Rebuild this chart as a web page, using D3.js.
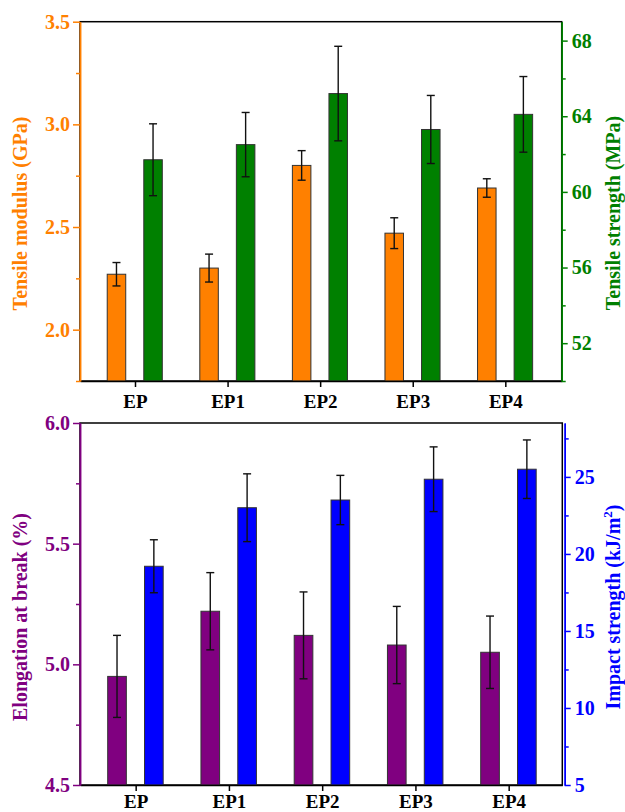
<!DOCTYPE html>
<html>
<head>
<meta charset="utf-8">
<script src="https://cdn.jsdelivr.net/npm/d3@7"></script>
<style>
  html, body { margin: 0; padding: 0; background: #fff; }
  svg { display: block; }
  text { font-family: "Liberation Serif", "Times New Roman", serif; font-weight: bold; }
</style>
</head>
<body>
<svg id="chart" width="625" height="812"></svg>
<script>
// Samples
const categories = ["EP", "EP1", "EP2", "EP3", "EP4"];

// Upper panel: tensile modulus (GPa) and tensile strength (MPa)
const tensileModulus    = [2.27, 2.30, 2.80, 2.47, 2.69];
const tensileModulusErr = [0.057, 0.068, 0.072, 0.075, 0.045];
const tensileStrength    = [61.7, 62.5, 65.2, 63.3, 64.1];
const tensileStrengthErr = [1.9, 1.7, 2.5, 1.8, 2.0];

// Lower panel: elongation at break (%) and impact strength (kJ/m²)
const elongation    = [4.95, 5.22, 5.12, 5.08, 5.05];
const elongationErr = [0.17, 0.16, 0.18, 0.16, 0.15];
const impactStrength    = [19.2, 23.0, 23.5, 24.85, 25.5];
const impactStrengthErr = [1.72, 2.2, 1.6, 2.1, 1.9];

// Axis ticks
const modulusTicks       = [2.0, 2.5, 3.0, 3.5];
const modulusMinorTicks  = [1.75, 2.25, 2.75, 3.25];
const strengthTicks      = [52, 56, 60, 64, 68];
const strengthMinorTicks = [50, 54, 58, 62, 66];
const elongTicks         = [4.5, 5.0, 5.5, 6.0];
const elongMinorTicks    = [4.75, 5.25, 5.75];
const impactTicks        = [5, 10, 15, 20, 25];
const impactMinorTicks   = [7.5, 12.5, 17.5, 22.5, 27.5];

const TICK_FONT = 20;
const CAT_FONT = 19;
const svg = d3.select("#chart");

function drawPanel(cfg) {
  const g = svg.append("g");
  const { left, right, top, bottom } = cfg;

  const x = d3.scaleLinear()
    .domain([-cfg.padL, categories.length - 1 + cfg.padR])
    .range([left, right]);
  const step = x(1) - x(0);
  const barW = 0.2 * step;

  const yL = d3.scaleLinear().domain(cfg.leftDomain).range([bottom, top]);
  const yR = d3.scaleLinear().domain(cfg.rightDomain).range([bottom, top]);

  // frame
  g.append("rect")
    .attr("x", left).attr("y", top)
    .attr("width", right - left).attr("height", bottom - top)
    .attr("fill", "none").attr("stroke", "#000").attr("stroke-width", 1.5);

  // bars with error bars
  function bars(values, errs, scale, offset, color) {
    const bg = g.append("g");
    bg.selectAll("rect").data(values).join("rect")
      .attr("x", (d, i) => x(i) + offset * step - barW / 2)
      .attr("y", d => scale(d))
      .attr("width", barW)
      .attr("height", d => bottom - scale(d))
      .attr("fill", color)
      .attr("stroke", "#333").attr("stroke-width", 1);
    const eg = g.append("g").attr("stroke", "#111").attr("stroke-width", 1.4);
    values.forEach((v, i) => {
      const cx = x(i) + offset * step;
      const y1 = scale(v + errs[i]), y2 = scale(v - errs[i]);
      eg.append("line").attr("x1", cx).attr("x2", cx).attr("y1", y1).attr("y2", y2);
      eg.append("line").attr("x1", cx - 4).attr("x2", cx + 4).attr("y1", y1).attr("y2", y1);
      eg.append("line").attr("x1", cx - 4).attr("x2", cx + 4).attr("y1", y2).attr("y2", y2);
    });
  }
  bars(cfg.leftValues, cfg.leftErr, yL, -0.2, cfg.leftColor);
  bars(cfg.rightValues, cfg.rightErr, yR, 0.195, cfg.rightColor);

  // bottom axis with category names
  const xa = g.append("g").attr("transform", `translate(0,${bottom})`)
    .call(d3.axisBottom(x).tickValues(d3.range(categories.length))
      .tickFormat(i => categories[i]).tickSize(6).tickSizeOuter(0));
  xa.select(".domain").attr("stroke", "#000").attr("stroke-width", 1.5);
  xa.selectAll(".tick line").attr("stroke", "#000").attr("stroke-width", 1.5);
  xa.selectAll(".tick text").attr("y", cfg.catBaseline).attr("dy", 0)
    .attr("fill", "#000").style("font-size", CAT_FONT + "px");

  function styleAxis(sel, color) {
    sel.select(".domain").attr("stroke", color).attr("stroke-width", 1.5);
    sel.selectAll(".tick line").attr("stroke", color).attr("stroke-width", 1.5);
    sel.selectAll(".tick text").attr("fill", color).style("font-size", TICK_FONT + "px");
  }

  // left axis
  const la = g.append("g").attr("transform", `translate(${left},0)`)
    .call(d3.axisLeft(yL).tickValues(cfg.leftTicks).tickFormat(d3.format(".1f"))
      .tickSize(7).tickPadding(3).tickSizeOuter(0));
  styleAxis(la, cfg.leftColor);
  const lm = g.append("g").attr("transform", `translate(${left},0)`)
    .call(d3.axisLeft(yL).tickValues(cfg.leftMinor).tickFormat("").tickSize(4).tickSizeOuter(0));
  styleAxis(lm, cfg.leftColor);

  // right axis
  const ra = g.append("g").attr("transform", `translate(${cfg.rightAxisX},0)`)
    .call(d3.axisRight(yR).tickValues(cfg.rightTicks).tickFormat(d3.format("d"))
      .tickSize(6).tickPadding(4).tickSizeOuter(0));
  styleAxis(ra, cfg.rightColor);
  const rm = g.append("g").attr("transform", `translate(${cfg.rightAxisX},0)`)
    .call(d3.axisRight(yR).tickValues(cfg.rightMinor).tickFormat("").tickSize(4).tickSizeOuter(0));
  styleAxis(rm, cfg.rightColor);

  // axis titles
  g.append("text")
    .attr("transform", `translate(${cfg.leftTitleX},${cfg.leftTitleY}) rotate(-90)`)
    .attr("text-anchor", "middle").attr("fill", cfg.leftColor)
    .style("font-size", "20px").text(cfg.leftTitle);
  const rt = g.append("text")
    .attr("transform", `translate(${cfg.rightTitleX},${cfg.rightTitleY}) rotate(-90)`)
    .attr("text-anchor", "middle").attr("fill", cfg.rightColor)
    .style("font-size", "20px");
  rt.append("tspan").text(cfg.rightTitle);
  if (cfg.rightTitleSup) {
    rt.append("tspan").attr("dy", -8).style("font-size", "13px").text(cfg.rightTitleSup);
    rt.append("tspan").attr("dy", 8).text(cfg.rightTitleEnd);
  }
}

drawPanel({
  left: 80, right: 561.7, top: 21.7, bottom: 381, rightAxisX: 561.7,
  padL: 0.594, padR: 0.609, catBaseline: 27,
  leftDomain: [1.75, 3.5], rightDomain: [50, 69],
  leftValues: tensileModulus, leftErr: tensileModulusErr,
  rightValues: tensileStrength, rightErr: tensileStrengthErr,
  leftColor: "#FF8000", rightColor: "#008000",
  leftTicks: modulusTicks, leftMinor: modulusMinorTicks,
  rightTicks: strengthTicks, rightMinor: strengthMinorTicks,
  leftTitle: "Tensile modulus (GPa)", leftTitleX: 27, leftTitleY: 213.5,
  rightTitle: "Tensile strength (MPa)", rightTitleX: 620, rightTitleY: 213
});

drawPanel({
  left: 80, right: 562.3, top: 423, bottom: 785, rightAxisX: 564.7,
  padL: 0.597, padR: 0.575, catBaseline: 23,
  leftDomain: [4.5, 6.0], rightDomain: [5, 28.5],
  leftValues: elongation, leftErr: elongationErr,
  rightValues: impactStrength, rightErr: impactStrengthErr,
  leftColor: "#800080", rightColor: "#0000FF",
  leftTicks: elongTicks, leftMinor: elongMinorTicks,
  rightTicks: impactTicks, rightMinor: impactMinorTicks,
  leftTitle: "Elongation at break (%)", leftTitleX: 27, leftTitleY: 617,
  rightTitle: "Impact strength (kJ/m", rightTitleSup: "2", rightTitleEnd: ")",
  rightTitleX: 620, rightTitleY: 607
});
</script>
</body>
</html>
